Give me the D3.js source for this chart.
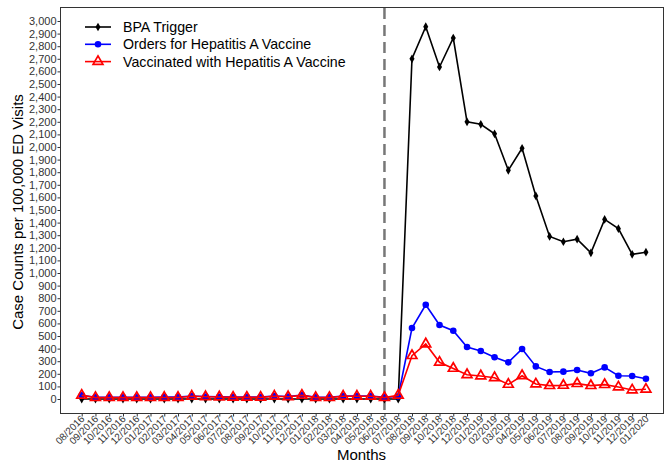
<!DOCTYPE html>
<html><head><meta charset="utf-8">
<script src="https://cdn.jsdelivr.net/npm/d3@7/dist/d3.min.js"></script>
<style>body{margin:0;background:#fff;} svg{display:block;font-family:"Liberation Sans",Arial,sans-serif;}</style>
</head><body><svg id="c" width="664" height="464"></svg>
<script>
const months = ["08/2016","09/2016","10/2016","11/2016","12/2016","01/2017","02/2017","03/2017","04/2017","05/2017","06/2017","07/2017","08/2017","09/2017","10/2017","11/2017","12/2017","01/2018","02/2018","03/2018","04/2018","05/2018","06/2018","07/2018","08/2018","09/2018","10/2018","11/2018","12/2018","01/2019","02/2019","03/2019","04/2019","05/2019","06/2019","07/2019","08/2019","09/2019","10/2019","11/2019","12/2019","01/2020"];
const bpa = [0,0,0,0,0,0,0,0,0,0,0,0,0,0,0,0,0,0,0,0,0,0,0,0,2700,2955,2635,2865,2200,2180,2105,1815,1990,1612,1290,1248,1268,1160,1425,1352,1148,1165];
const orders = [30,14,14,14,14,14,15,15,24,20,18,15,15,15,24,20,31,14,14,24,24,24,14,20,563,748,587,542,413,381,331,291,397,259,214,217,230,204,251,185,183,161];
const vaccinated = [29,11,11,11,11,11,12,12,22,18,16,13,13,13,22,18,29,11,11,22,22,22,11,29,344,437,291,243,193,183,169,116,185,119,106,108,122,106,114,95,71,77];
const yTicks = d3.range(0, 3001, 100);
const cutoff = "06/2018";

const svg = d3.select("#c");
const L = 60, R = 663, T = 7, B = 413;
const x = d3.scaleLinear().domain([-1.577, 42.24]).range([L, R]);
const y = d3.scaleLinear().domain([-111, 3111]).range([B, T]);
const xi = (d, i) => x(i);

svg.append("rect").attr("x", L + 0.5).attr("y", T + 0.5).attr("width", R - L).attr("height", B - T)
  .attr("fill", "none").attr("stroke", "#333").attr("stroke-width", 1);

const ya = svg.append("g").attr("transform", `translate(${L + 0.5},0)`)
  .call(d3.axisLeft(y).tickValues(yTicks).tickSize(3).tickPadding(1).tickFormat(d3.format(",")));
ya.select(".domain").remove();
ya.selectAll("line").attr("stroke", "#333");
ya.selectAll("text").attr("font-size", 11).attr("fill", "#333").attr("font-family", "Liberation Sans, Arial, sans-serif");

const xa = svg.append("g").attr("transform", `translate(0,${B + 0.5})`)
  .call(d3.axisBottom(x).tickValues(d3.range(months.length)).tickSize(3).tickFormat(i => months[i]));
xa.select(".domain").remove();
xa.selectAll("line").attr("stroke", "#333");
xa.selectAll("text").attr("font-size", 10).attr("fill", "#333").attr("font-family", "Liberation Sans, Arial, sans-serif")
  .attr("text-anchor", "end").attr("dy", null).attr("y", 0)
  .attr("transform", "translate(3,6) rotate(-45)");

const ci = months.indexOf(cutoff);
svg.append("line").attr("x1", x(ci)).attr("x2", x(ci)).attr("y1", T + 1).attr("y2", B)
  .attr("stroke", "#777").attr("stroke-width", 2.5).attr("stroke-dasharray", "11,6");

const line = d3.line().x(xi).y(d => y(d));

svg.append("path").datum(bpa).attr("d", line).attr("fill", "none").attr("stroke", "#000").attr("stroke-width", 1.6);
svg.append("g").selectAll("path").data(bpa).join("path")
  .attr("d", d3.symbol(d3.symbolDiamond, 22)).attr("transform", (d, i) => `translate(${x(i)},${y(d)})`).attr("fill", "#000");

svg.append("path").datum(orders).attr("d", line).attr("fill", "none").attr("stroke", "#0000ff").attr("stroke-width", 1.6);
svg.append("g").selectAll("circle").data(orders).join("circle")
  .attr("cx", xi).attr("cy", d => y(d)).attr("r", 3.3).attr("fill", "#0000ff");

svg.append("path").datum(vaccinated).attr("d", line).attr("fill", "none").attr("stroke", "#ff0000").attr("stroke-width", 1.6);
svg.append("g").selectAll("path").data(vaccinated).join("path")
  .attr("d", d3.symbol(d3.symbolTriangle, 42)).attr("transform", (d, i) => `translate(${x(i)},${y(d)})`)
  .attr("fill", "none").attr("stroke", "#ff0000").attr("stroke-width", 1.7);

const leg = [
  {name: "BPA Trigger", c: "#000", s: "d"},
  {name: "Orders for Hepatitis A Vaccine", c: "#0000ff", s: "c"},
  {name: "Vaccinated with Hepatitis A Vaccine", c: "#ff0000", s: "t"}
];
const lg = svg.append("g");
leg.forEach((d, k) => {
  const yy = 27 + k * 17.3;
  lg.append("line").attr("x1", 85).attr("x2", 111).attr("y1", yy).attr("y2", yy).attr("stroke", d.c).attr("stroke-width", 1.6);
  if (d.s === "d") lg.append("path").attr("d", d3.symbol(d3.symbolDiamond, 22)).attr("transform", `translate(98,${yy})`).attr("fill", d.c);
  if (d.s === "c") lg.append("circle").attr("cx", 98).attr("cy", yy).attr("r", 3.3).attr("fill", d.c);
  if (d.s === "t") lg.append("path").attr("d", d3.symbol(d3.symbolTriangle, 42)).attr("transform", `translate(98,${yy})`).attr("fill", "none").attr("stroke", d.c).attr("stroke-width", 1.7);
  lg.append("text").attr("x", 123).attr("y", yy + 5).attr("font-size", 14.2).attr("fill", "#000").text(d.name);
});

svg.append("text").attr("x", (L + R) / 2).attr("y", 460).attr("text-anchor", "middle").attr("font-size", 15).attr("fill", "#000").text("Months");
svg.append("text").attr("transform", `translate(23,${(T + B) / 2 + 2}) rotate(-90)`).attr("text-anchor", "middle").attr("font-size", 15).attr("fill", "#000").text("Case Counts per 100,000 ED Visits");
</script></body></html>
